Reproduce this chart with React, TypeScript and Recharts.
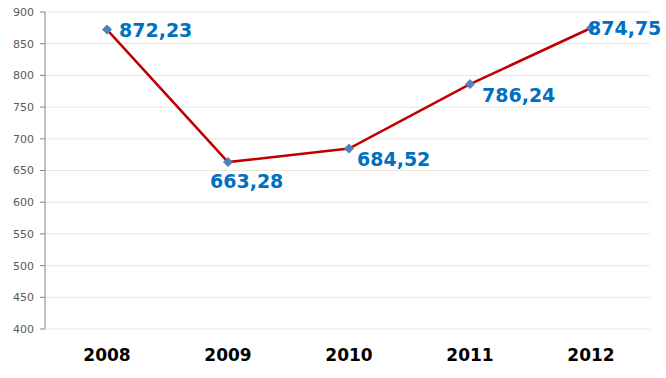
import React from "react";
import { LineChart, Line, XAxis, YAxis, CartesianGrid } from "recharts";

const years = ["2008", "2009", "2010", "2011", "2012"];
const values = [872.23, 663.28, 684.52, 786.24, 874.75];
const valueLabels = ["872,23", "663,28", "684,52", "786,24", "874,75"];
const yTicks = [400, 450, 500, 550, 600, 650, 700, 750, 800, 850, 900];

const data = years.map((y, i) => ({ year: y, value: values[i], label: valueLabels[i] }));

const labelOffsets = [
  { dx: 12, dy: 0 },
  { dx: -18, dy: 19 },
  { dx: 8, dy: 10 },
  { dx: 12, dy: 11 },
  { dx: -3, dy: 0 },
];

const ValueLabel = (props: any) => {
  const { x, y, index } = props;
  const o = labelOffsets[index] || { dx: 0, dy: 0 };
  return (
    <text
      x={x + o.dx}
      y={y + o.dy}
      dominantBaseline="central"
      fill="#0070c0"
      fontFamily="DejaVu Sans"
      fontWeight="bold"
      fontSize={19}
    >
      {valueLabels[index]}
    </text>
  );
};

const Diamond = (props: any) => {
  const { cx, cy } = props;
  const s = 4.5;
  return (
    <path
      d={`M${cx},${cy - s}L${cx + s},${cy}L${cx},${cy + s}L${cx - s},${cy}Z`}
      fill="#4f81bd"
      stroke="#4f81bd"
    />
  );
};

export default function App() {
  return (
    <div style={{ position: "absolute", left: 0, top: 0, width: 666, height: 378, background: "#fff" }}>
      <LineChart width={666} height={378} data={data} margin={{ top: 12, right: 16, bottom: 0, left: 0 }}>
        <CartesianGrid vertical={false} stroke="#e8e8de" />
        <XAxis
          dataKey="year"
          height={49}
          padding={{ left: 62, right: 59 }}
          axisLine={false}
          tickLine={false}
          tick={{ fill: "#000", fontSize: 17, fontWeight: "bold", fontFamily: "DejaVu Sans" }}
          dy={12}
        />
        <YAxis
          width={45}
          domain={[400, 900]}
          ticks={yTicks}
          interval={0}
          axisLine={{ stroke: "#868686" }}
          tickLine={{ stroke: "#868686" }}
          tickSize={5}
          tickMargin={6}
          tick={{ fill: "#595959", fontSize: 11, fontFamily: "DejaVu Sans" }}
        />
        <Line
          type="linear"
          dataKey="value"
          stroke="#c00000"
          strokeWidth={2.5}
          dot={<Diamond />}
          activeDot={false}
          isAnimationActive={false}
          label={<ValueLabel />}
        />
      </LineChart>
    </div>
  );
}
